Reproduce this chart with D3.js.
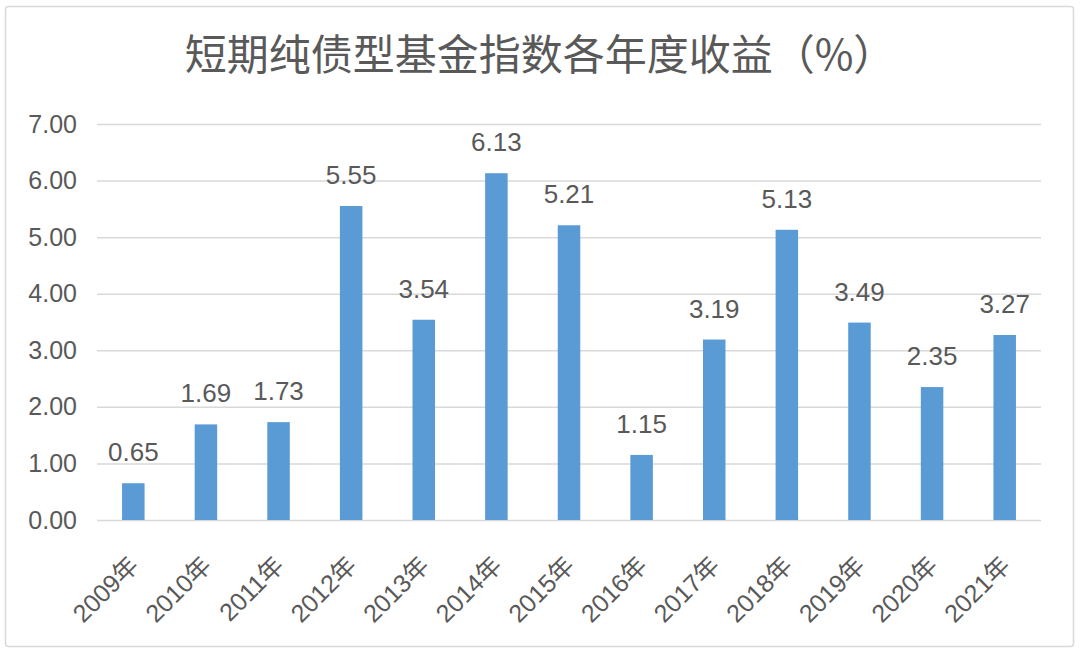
<!DOCTYPE html>
<html>
<head>
<meta charset="utf-8">
<script src="https://cdn.jsdelivr.net/npm/d3@7"></script>
<style>
  body { margin: 0; background: #fff; }
  text { font-family: "Liberation Sans", Arial, "Noto Sans CJK SC", sans-serif; fill: #595959; }
</style>
</head>
<body>
<div id="chart"></div>
<script>
var years = ["2009年", "2010年", "2011年", "2012年", "2013年", "2014年", "2015年",
    "2016年", "2017年", "2018年", "2019年", "2020年", "2021年"];
var returns = [0.65, 1.69, 1.73, 5.55, 3.54, 6.13, 5.21, 1.15, 3.19, 5.13, 3.49, 2.35, 3.27];
var yTicks = [0, 1, 2, 3, 4, 5, 6, 7];
var title = "短期纯债型基金指数各年度收益（%）";

var svgWidth = 1080;
var svgHeight = 656;

var margin = { top: 124, right: 39, bottom: 136, left: 97 };
var width = svgWidth - margin.left - margin.right;
var height = svgHeight - margin.top - margin.bottom;

var svg = d3.select("#chart")
    .append("svg")
    .attr("width", svgWidth)
    .attr("height", svgHeight);

// outer frame
svg.append("rect")
    .attr("x", 5.5)
    .attr("y", 6.5)
    .attr("width", 1068)
    .attr("height", 640)
    .attr("rx", 3)
    .attr("fill", "#fff")
    .attr("stroke", "#d9d9d9")
    .attr("stroke-width", 1.5);

svg.append("text")
    .attr("x", svgWidth / 2)
    .attr("y", 70)
    .attr("text-anchor", "middle")
    .style("font-family", "'Noto Sans CJK SC', sans-serif")
    .style("font-size", "42px")
    .text(title);

var chartGroup = svg.append("g")
    .attr("transform", `translate(${margin.left}, ${margin.top})`);

// scales
var xBandScale = d3.scaleBand()
    .domain(years)
    .range([0, width]);

var yLinearScale = d3.scaleLinear()
    .domain([0, 7])
    .range([height, 0]);

var barWidth = xBandScale.bandwidth() * 0.31;

// gridlines + y labels
var leftAxis = d3.axisLeft(yLinearScale)
    .tickValues(yTicks)
    .tickSize(-width)
    .tickPadding(20)
    .tickFormat(d3.format(".2f"));

var yAxisGroup = chartGroup.append("g").call(leftAxis);
yAxisGroup.select(".domain").remove();
yAxisGroup.selectAll("line")
    .attr("stroke", "#d9d9d9")
    .attr("stroke-width", 1.5);
yAxisGroup.selectAll("text")
    .style("font-size", "25px")
    .attr("fill", "#595959");

// x labels
var bottomAxis = d3.axisBottom(xBandScale).tickSize(0).tickPadding(0);
var xAxisGroup = chartGroup.append("g")
    .attr("transform", `translate(0, ${height})`)
    .call(bottomAxis);
xAxisGroup.select(".domain").remove();
xAxisGroup.selectAll("text")
    .attr("fill", "#595959")
    .style("font-size", "25px")
    .attr("text-anchor", "end")
    .attr("dy", null)
    .attr("y", 0)
    .attr("transform", "translate(7, 47) rotate(-45)");

// bars
chartGroup.selectAll(".bar")
    .data(returns)
    .enter()
    .append("rect")
    .attr("class", "bar")
    .attr("x", (d, i) => xBandScale(years[i]) + (xBandScale.bandwidth() - barWidth) / 2)
    .attr("y", d => yLinearScale(d))
    .attr("width", barWidth)
    .attr("height", d => height - yLinearScale(d))
    .attr("fill", "#5b9bd5");

// value labels
chartGroup.selectAll(".valueText")
    .data(returns)
    .enter()
    .append("text")
    .attr("class", "valueText")
    .attr("x", (d, i) => xBandScale(years[i]) + xBandScale.bandwidth() / 2)
    .attr("y", d => yLinearScale(d) - 22)
    .attr("text-anchor", "middle")
    .style("font-size", "26px")
    .text(d => d.toFixed(2));
</script>
</body>
</html>
